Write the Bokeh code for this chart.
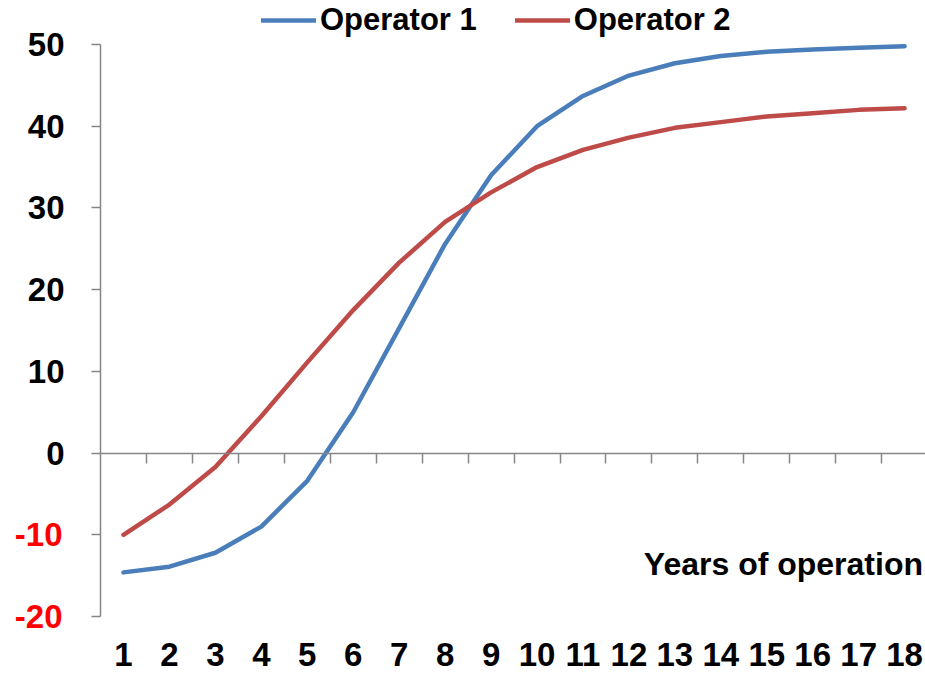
from bokeh.plotting import figure
from bokeh.models import (Range1d, LinearAxis, FixedTicker, Legend, LegendItem, Label)
from bokeh.embed import file_html
from bokeh.resources import INLINE

years = list(range(1, 19))
operator_1 = [-14.6, -13.9, -12.2, -9.0, -3.4, 5.0, 15.3, 25.6, 34.0, 40.0,
              43.7, 46.2, 47.7, 48.6, 49.1, 49.4, 49.6, 49.8]
operator_2 = [-10.0, -6.3, -1.7, 4.5, 11.1, 17.5, 23.3, 28.3, 31.9, 35.0,
              37.1, 38.6, 39.8, 40.5, 41.2, 41.6, 42.0, 42.2]
y_ticks_all = [-20, -10, 0, 10, 20, 30, 40, 50]
y_ticks_neg = [-20, -10]
x_bounds = [i + 0.5 for i in range(1, 18)]
x_title = "Years of operation"

FONT = "Liberation Sans"
FS_TICK = "33px"
FS_TEXT = "32px"
FS_LEG = "31px"
GRAY = "#868686"
BLUE = "#4A7EBB"
RED = "#BE4B48"

PX_PER_UNIT = 572 / 70.0  # vertical scale of the plotting area

p = figure(width=925, height=677,
           x_range=Range1d(0.5, 0.5 + 825 / 45.95),
           y_range=Range1d(-20 - 61 / PX_PER_UNIT, 50 + 44 / PX_PER_UNIT),
           x_axis_type=None, y_axis_type=None,
           min_border_left=100, min_border_right=0, min_border_top=0, min_border_bottom=0,
           toolbar_location=None, output_backend="svg")
p.outline_line_color = None
p.xgrid.visible = False
p.ygrid.visible = False

r1 = p.line(years, operator_1, line_color=BLUE, line_width=4.5, line_cap="round", line_join="round")
r2 = p.line(years, operator_2, line_color=RED, line_width=4.5, line_cap="round", line_join="round")

# inner (black) y axis: line, all ticks, labels only for non-negative values
y_black = LinearAxis(ticker=FixedTicker(ticks=y_ticks_all), bounds=(-20, 50),
                     major_label_overrides={t: "" for t in y_ticks_neg})
y_black.axis_line_color = GRAY
y_black.axis_line_width = 1.5
y_black.major_tick_line_color = GRAY
y_black.major_tick_line_width = 1.5
y_black.major_tick_out = 9
y_black.major_tick_in = 0
y_black.minor_tick_line_color = None
y_black.major_label_text_font = FONT
y_black.major_label_text_font_style = "bold"
y_black.major_label_text_font_size = FS_TICK
y_black.major_label_text_color = "black"
y_black.major_label_standoff = 27
p.add_layout(y_black, "left")

# outer (red) y axis: labels for negative values only, pulled back in line
y_red = LinearAxis(ticker=FixedTicker(ticks=y_ticks_neg),
                   major_label_overrides={t: "-" + str(abs(t)) for t in y_ticks_neg})
y_red.axis_line_color = None
y_red.major_tick_line_color = None
y_red.major_tick_out = 0
y_red.major_tick_in = 0
y_red.minor_tick_line_color = None
y_red.major_label_text_font = FONT
y_red.major_label_text_font_style = "bold"
y_red.major_label_text_font_size = FS_TICK
y_red.major_label_text_color = "#FF0000"
y_red.major_label_standoff = -38
p.add_layout(y_red, "left")

x_zero = LinearAxis(fixed_location=0, ticker=FixedTicker(ticks=x_bounds))
x_zero.axis_line_color = GRAY
x_zero.axis_line_width = 1.5
x_zero.major_tick_line_color = GRAY
x_zero.major_tick_line_width = 1.5
x_zero.major_tick_out = 10
x_zero.major_tick_in = 0
x_zero.minor_tick_line_color = None
x_zero.major_label_text_font_size = "0px"
x_zero.major_label_text_color = None
p.add_layout(x_zero, "below")

x_lab = LinearAxis(fixed_location=-20, ticker=FixedTicker(ticks=years))
x_lab.axis_line_color = None
x_lab.major_tick_line_color = None
x_lab.major_tick_out = 0
x_lab.major_tick_in = 0
x_lab.minor_tick_line_color = None
x_lab.major_label_text_font = FONT
x_lab.major_label_text_font_style = "bold"
x_lab.major_label_text_font_size = FS_TICK
x_lab.major_label_text_color = "black"
x_lab.major_label_standoff = 26
p.add_layout(x_lab, "below")

p.add_layout(Label(x=18.40, y=-13.6, text=x_title, text_align="right",
                   text_baseline="alphabetic", text_font=FONT, text_font_style="bold",
                   text_font_size=FS_TEXT, text_color="black"))

legend = Legend(items=[LegendItem(label="Operator 1", renderers=[r1]),
                       LegendItem(label="Operator 2", renderers=[r2])],
                orientation="horizontal", location=(161, 639),
                padding=0, margin=0, spacing=38, label_standoff=4,
                glyph_width=55, glyph_height=30, label_height=30,
                label_text_font=FONT, label_text_font_style="bold",
                label_text_font_size=FS_LEG, label_text_color="black",
                background_fill_alpha=0, border_line_color=None)
p.add_layout(legend, "center")

open("out.html", "w").write(file_html(p, INLINE))
